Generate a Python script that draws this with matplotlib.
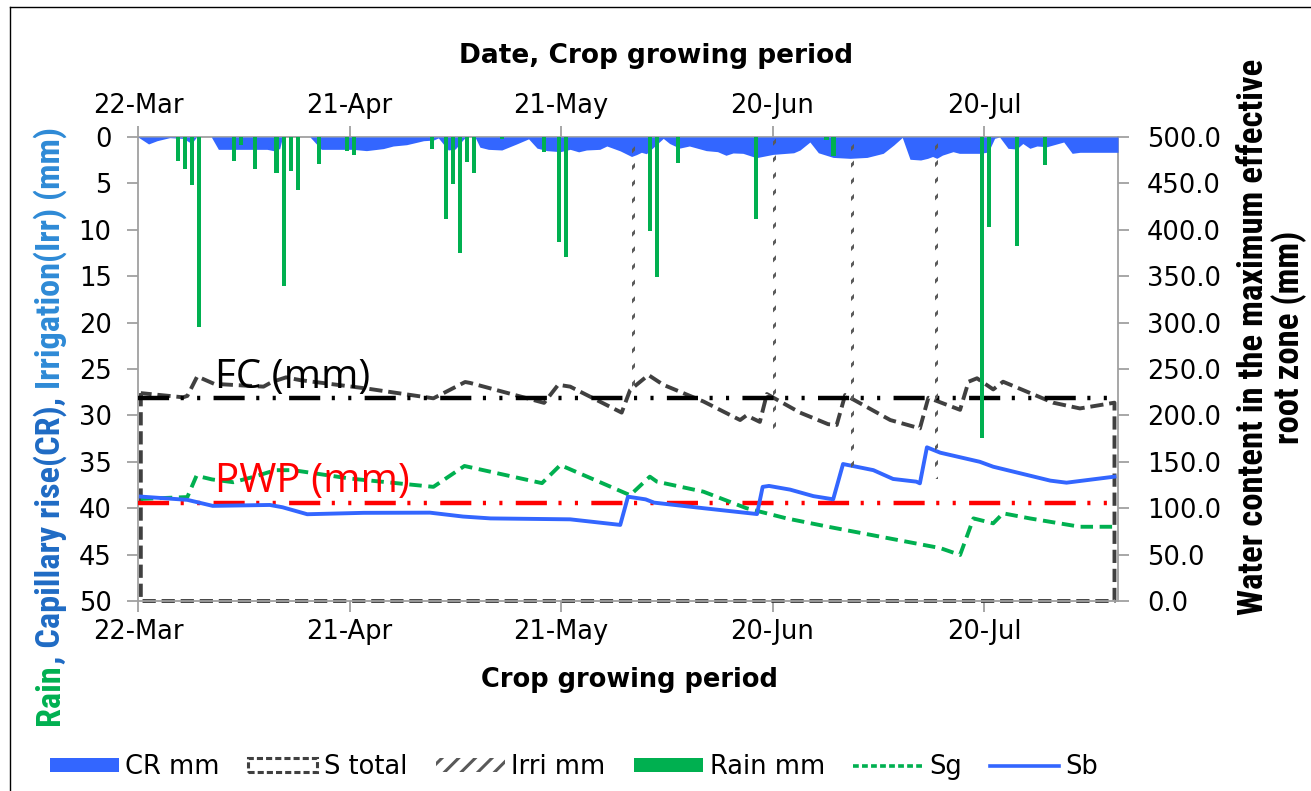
import matplotlib
matplotlib.use('Agg')
import matplotlib.pyplot as plt
from matplotlib.patches import Patch
from matplotlib.lines import Line2D
from matplotlib import font_manager as fm

# ---------------- data ----------------
tick_days = [0, 30, 60, 90, 120]
tick_labels = ['22-Mar', '21-Apr', '21-May', '20-Jun', '20-Jul']
season_days = 139

rain_days = [5, 6, 7, 8, 13, 14, 16, 19, 20, 21, 22, 25, 29, 30, 41, 43, 44, 45, 46, 47,
             51, 57, 59, 60, 72, 73, 76, 87, 97, 98, 119, 120, 124, 128]
rain_mm = [2.55, 3.4, 5.2, 20.5, 2.55, 0.86, 3.4, 3.9, 16.1, 3.66, 5.7, 2.95, 1.5, 1.9, 1.3,
           8.8, 5.07, 12.5, 2.7, 3.9, 0.2, 1.65, 11.3, 12.9, 10.1, 15.05, 2.77, 8.87, 0.3, 2.1,
           32.4, 9.7, 11.7, 2.98]

irri_days = [70, 90, 101, 113]
irri_mm = [27.5, 31.9, 36.5, 36.8]

cr_days = [0, 1.5, 2.7, 4.5, 6.4, 7.6, 8.3, 10.4, 11.4, 18.3, 19.2, 20.1, 20.5, 24.4, 26.0,
           30.5, 32.4, 34.8, 36.2, 38.1, 40.5, 41.9, 42.6, 44.0, 45.0, 46.1, 46.5, 47.8, 48.5,
           49.7, 51.6, 53.7, 55.4, 56.6, 58.0, 59.9, 61.3, 62.5, 63.6, 65.5, 66.5, 68.4, 70.0,
           70.7, 71.4, 72.1, 74.5, 75.4, 76.8, 78.2, 80.6, 82.2, 83.4, 84.4, 85.8, 87.7, 90.1,
           93.0, 93.9, 95.3, 96.5, 98.6, 101.0, 103.4, 105.7, 107.2, 108.4, 109.5, 111.0, 112.0,
           112.7, 113.3, 114.1, 115.6, 116.5, 119.4, 120.6, 121.5, 122.2, 123.4, 124.6, 125.5,
           126.5, 127.5, 128.9, 131.3, 132.5, 133.6, 139.0]
cr_mm = [0, 0.75, 0.4, 0.07, 0.15, 0.7, 0, 0, 1.33, 1.33, 1.47, 1.25, 0, 0, 1.33, 1.33, 1.47,
         1.25, 0.97, 0.83, 0.4, 0.33, 0.1, 1.4, 1.3, 0.3, 0, 0, 1.1, 1.33, 1.4, 0.75, 0.2, 1.2,
         1.47, 1.58, 1.33, 1.6, 1.4, 1.33, 0.97, 1.5, 2.1, 1.9, 1.65, 1.8, 0.15, 0.7, 1.2, 0.97,
         1.47, 1.58, 1.97, 1.72, 1.76, 2.23, 1.87, 1.7, 1.4, 0.54, 1.7, 2.2, 2.3, 2.2, 1.76, 0.86,
         0.05, 2.4, 2.48, 2.3, 2.1, 2.3, 1.95, 1.58, 1.76, 1.76, 1.62, 0.14, 0, 1.22, 1.3, 0.7,
         1.22, 0.97, 1.05, 0.54, 1.76, 1.65, 1.65]

stot_days = [0.4, 6.4, 7.0, 8.4, 10.8, 17.8, 19.0, 21.0, 23.0, 32.4, 41.9, 46.4, 47.1, 57.6,
             59.6, 61.3, 68.6, 69.8, 72.4, 74.5, 80.2, 85.4, 86.3, 88.2, 89.2, 93.9, 97.9, 99.1,
             100.3, 106.7, 110.9, 112.1, 116.6, 117.8, 119.0, 121.3, 122.7, 129.8, 133.6, 138.5]
stot_mm = [224, 219.5, 221, 242, 234, 231, 236, 241, 238, 229, 218.4, 236, 235, 213.5, 233, 231,
           203, 227.4, 243.5, 233, 215, 195, 200, 193, 223, 203, 190.5, 189.7, 222, 195, 186, 219,
           206, 236.3, 240, 228, 236.3, 213.7, 207.5, 213.7]

sg_days = [0.4, 7.0, 8.3, 10.5, 13.5, 16.5, 19.5, 22.0, 30.0, 41.9, 46.3, 57.3, 59.9, 69.8,
           72.6, 73.6, 80.2, 86.3, 92.0, 97.9, 113.8, 116.6, 118.5, 121.3, 122.7, 126.5, 133.6,
           138.5]
sg_mm = [110, 112, 135, 131, 128, 134, 141, 141, 132, 123, 145.5, 127, 146.5, 114, 134, 128.6,
         117.8, 100, 89, 80, 57, 49.6, 89, 83.7, 94.5, 89, 80, 80]

sb_days = [0.4, 7.0, 10.6, 18.7, 20.5, 24.0, 32.0, 41.4, 46.1, 50.0, 61.3, 68.4, 69.5, 72.0,
           73.2, 80.2, 87.8, 88.6, 89.5, 92.5, 95.8, 98.6, 100.0, 104.3, 107.1, 110.4, 110.9,
           111.9, 113.8, 119.4, 121.3, 129.4, 131.7, 138.5]
sb_mm = [112.5, 109, 102.5, 103.5, 101, 93.5, 95, 95.2, 91, 89, 88, 82, 112.4, 109.5, 106, 100,
         93.7, 123, 124, 120, 113, 109.6, 147.6, 141, 131.5, 128.6, 126.8, 165.6, 159.8, 150,
         144.7, 129.7, 127.5, 134]

fc_mm = 218.5
pwp_mm = 106.0
left_ticks = list(range(0, 51, 5))
right_ticks = list(range(0, 501, 50))

# ---------------- style ----------------
BLUE = '#3366FF'
GREEN = '#00B050'
DARK = '#404040'
AXC = '#A0A0A0'
plt.rcParams['hatch.linewidth'] = 2.2


def first_font(names, default):
    for n in names:
        try:
            fm.findfont(fm.FontProperties(family=n), fallback_to_default=False)
            return n
        except Exception:
            pass
    return default


NARROW = first_font(['Liberation Sans Narrow', 'Roboto Condensed', 'DejaVu Sans Condensed'],
                    'Liberation Sans')

W, H = 1311, 791
fig = plt.figure(figsize=(W / 100, H / 100), dpi=100)
L, R, T, B = 138, 1118, 137, 601
ax = fig.add_axes([L / W, 1 - B / H, (R - L) / W, (B - T) / H])
axm = ax.twinx()
ax.yaxis.tick_right()
axm.yaxis.tick_left()

ax.set_xlim(0, season_days)
ax.set_ylim(0, 500)
axm.set_ylim(50, 0)

# water content (right scale)
ax.fill_between(stot_days, 0, stot_mm, facecolor='none', edgecolor=DARK,
                linestyle=(0, (3.4, 1.5)), linewidth=2.8, clip_on=False, zorder=2)
ax.axhline(fc_mm, color='black', lw=3.2, linestyle=(0, (7, 2.6, 0.7, 3, 0.7, 3)), zorder=3)
ax.axhline(pwp_mm, color='#FF0000', lw=3.2, linestyle=(0, (7, 2.6, 0.7, 3, 0.7, 3)), zorder=3)
ax.plot(sg_days, sg_mm, color=GREEN, lw=2.8, linestyle=(0, (3.2, 1.7)), zorder=4)
ax.plot(sb_days, sb_mm, color=BLUE, lw=2.8, zorder=4)

# rain / CR / irrigation (left scale, inverted)
axm.fill_between(cr_days, 0, cr_mm, color=BLUE, lw=0, zorder=1)
axm.bar([d + 0.65 for d in rain_days], rain_mm, width=0.58, color=GREEN, lw=0, zorder=3)
axm.bar([d + 0.3 for d in irri_days], irri_mm, width=0.42, facecolor='none',
        edgecolor='#5A5A5A', hatch='//', linewidth=0, zorder=2)

for s in ax.spines.values():
    s.set_color(AXC)
    s.set_linewidth(1.3)
for s in axm.spines.values():
    s.set_visible(False)

ax.set_xticks(tick_days, tick_labels)
ax.tick_params(axis='x', top=True, labeltop=True, bottom=True, labelbottom=True,
               direction='out', length=8, width=1.3, color=AXC, labelsize=18.5, pad=5)
ax.set_yticks(right_ticks, [f'{v:.1f}' for v in right_ticks])
ax.tick_params(axis='y', right=True, labelright=True, left=False, labelleft=False,
               direction='out', length=8, width=1.3, color=AXC, labelsize=18.5, pad=13)
axm.set_yticks(left_ticks, [str(v) for v in left_ticks])
axm.tick_params(axis='y', left=True, labelleft=True, right=False, labelright=False,
                direction='out', length=8, width=1.3, color=AXC, labelsize=18.5, pad=11)


def P(x, y):
    return (x / W, 1 - y / H)


fig.text(*P(656, 56), 'Date, Crop growing period', ha='center', va='center',
         fontsize=19, weight='bold')
fig.text(*P(629, 680), 'Crop growing period', ha='center', va='center',
         fontsize=18.5, weight='bold')

fig.text(*P(215, 388), 'FC (mm)', ha='left', va='baseline', fontsize=29,
         family='Open Sans', color='black', zorder=10)
fig.text(*P(215, 492), 'PWP (mm)', ha='left', va='baseline', fontsize=29,
         family='Open Sans', color='#FF0000', zorder=10)

# outer frame
fig.add_artist(Line2D([10 / W, 10 / W], [0, 1 - 7 / H], transform=fig.transFigure,
                      color='black', lw=1.0))
fig.add_artist(Line2D([10 / W, 1], [1 - 7 / H, 1 - 7 / H], transform=fig.transFigure,
                      color='black', lw=1.0))

# legend
handles = [Patch(facecolor=BLUE, edgecolor='none'),
           Patch(facecolor='white', edgecolor=DARK, linestyle=(0, (2, 1)), linewidth=2.2),
           Patch(facecolor='white', edgecolor='#595959', hatch='//', linewidth=0),
           Patch(facecolor=GREEN, edgecolor='none'),
           Line2D([], [], color=GREEN, lw=2.6, linestyle=(0, (1.6, 0.9))),
           Line2D([], [], color=BLUE, lw=2.6)]
labels = ['CR mm', 'S total', 'Irri mm', 'Rain mm', 'Sg', 'Sb']
fig.legend(handles, labels, loc='center', bbox_to_anchor=P(574, 767), ncol=6,
           frameon=False, fontsize=18.5, handlelength=2.7, handleheight=0.45,
           handletextpad=0.25, columnspacing=1.1, borderpad=0, borderaxespad=0)

# rotated axis titles, fitted to reference lengths
fig.canvas.draw()
rend = fig.canvas.get_renderer()


def text_len(s, size, family, weight='bold'):
    t = fig.text(0, 0, s, fontsize=size, family=family, weight=weight)
    w = t.get_window_extent(rend).width
    t.remove()
    return w


left_pieces = ['Rain', ', Capillary rise(CR),', 'Irrigation(Irr) (mm)']
left_colors = [GREEN, '#1F6BC4', '#2E8AD6']
left_gaps = [0, 0, 1]
s0 = 20
sp0 = text_len('n n', s0, NARROW) - text_len('nn', s0, NARROW)
tot0 = sum(text_len(p, s0, NARROW) for p in left_pieces) + sp0 * sum(left_gaps)
ls = s0 * 596 / tot0
sp = text_len('n n', ls, NARROW) - text_len('nn', ls, NARROW)
ycur = 725
for p, c, g in zip(left_pieces, left_colors, left_gaps):
    ycur -= g * sp
    fig.text(*P(50, ycur), p, rotation=90, rotation_mode='anchor', ha='left', va='center',
             fontsize=ls, family=NARROW, weight='bold', color=c)
    ycur -= text_len(p, ls, NARROW)

line1 = 'Water content in the maximum effective'
rs = s0 * 553 / text_len(line1, s0, NARROW)
fig.text(*P(1272, 337), line1 + '\nroot zone (mm)', rotation=90, ha='center', va='center',
         multialignment='center', fontsize=rs, family=NARROW, weight='bold',
         linespacing=1.05)

fig.savefig('out.png', dpi=100)
